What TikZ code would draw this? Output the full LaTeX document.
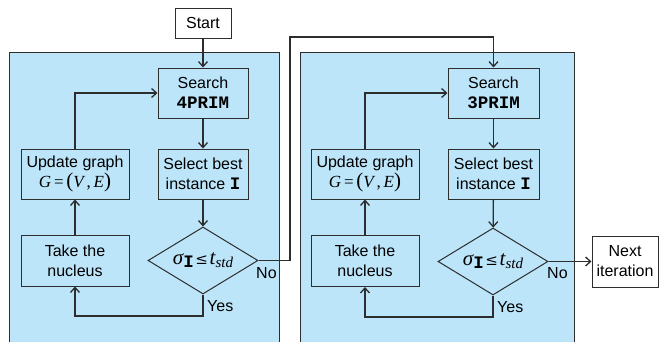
\documentclass[tikz,border=0pt]{standalone}
\usepackage{fontspec}
\setmainfont{Liberation Sans}
\setmonofont{Liberation Mono}
\newfontfamily\serifmath{Liberation Serif}
\newfontfamily\symfont{DejaVu Serif}
\usetikzlibrary{shapes.geometric,arrows.meta}

\definecolor{panelblue}{RGB}{188,229,250}
\definecolor{edge}{RGB}{45,45,45}

\newcommand{\mono}[1]{{\fontsize{17.5}{20}\selectfont\ttfamily\bfseries #1}}
\newcommand{\mvar}[1]{{\serifmath\itshape #1}}
\newcommand{\cond}{{\fontsize{21}{22}\selectfont\mvar{σ}}\raisebox{-3pt}{\mono{I}}\,{\symfont\fontsize{15}{16}\selectfont ≤}\,{\fontsize{21}{22}\selectfont\mvar{t}}\raisebox{-3pt}{\fontsize{15}{16}\selectfont\mvar{std}}}
\newcommand{\graphG}{{\fontsize{17}{20}\selectfont\mvar{G}\,{\serifmath =}\,{\serifmath\fontsize{21}{20}\selectfont(}\mvar{V}\,{\serifmath ,}\,\mvar{E}{\serifmath\fontsize{21}{20}\selectfont)}}}

\tikzset{
  panel/.style={draw=edge, line width=1pt, fill=panelblue},
  box/.style={draw=edge, line width=1pt, rectangle, inner sep=0pt, align=center,
    font=\fontsize{16}{20}\selectfont},
  whitebox/.style={box, fill=white},
  test/.style={draw=edge, line width=1pt, diamond, aspect=1.64, inner sep=0pt,
    minimum width=110pt, minimum height=67pt},
  flow/.style={draw=edge, line width=1.3pt, -{Straight Barb[length=5pt,width=9pt,line width=1.3pt]}},
  tag/.style={font=\fontsize{16}{18}\selectfont, inner sep=0pt}
}

\begin{document}
\begin{tikzpicture}[x=1pt, y=-1pt]
  \clip (0,0) rectangle (659,341);
  \fill[white] (0,0) rectangle (659,341);

  % the two search stages
  \draw[panel] (9,52) rectangle (279,350);
  \draw[panel] (300,52) rectangle (574,350);

  \node[whitebox, minimum width=56pt, minimum height=30pt] (start) at (203,23) {Start};

  % stage one
  \node[box, minimum width=90pt, minimum height=50pt] (search1) at (203,93) {Search\\\mono{4PRIM}};
  \node[box, minimum width=90pt, minimum height=50pt] (select1) at (203,174) {Select best\\instance \mono{I}};
  \node[box, minimum width=108pt, minimum height=50pt] (update1) at (75,174) {Update graph\\\graphG};
  \node[box, minimum width=108pt, minimum height=51pt] (take1) at (75,260.5) {Take the\\nucleus};
  \node[test] (dec1) at (203,260.5) {\cond};

  % stage two
  \node[box, minimum width=91pt, minimum height=50pt] (search2) at (493.5,93) {Search\\\mono{3PRIM}};
  \node[box, minimum width=91pt, minimum height=50pt] (select2) at (493.5,174) {Select best\\instance \mono{I}};
  \node[box, minimum width=108pt, minimum height=50pt] (update2) at (365,174) {Update graph\\\graphG};
  \node[box, minimum width=108pt, minimum height=51pt] (take2) at (365,261) {Take the\\nucleus};
  \node[test] (dec2) at (493,261.5) {\cond};

  \node[whitebox, minimum width=66pt, minimum height=51pt] (next) at (625,261.5) {Next\\iteration};

  % route points
  \coordinate (yes1) at (203,316);
  \coordinate (yes2) at (493,317);
  \coordinate (jumpA) at (290,260.5);
  \coordinate (jumpB) at (290,37);

  % connectors, stage one
  \draw[flow] (start) -- (search1);
  \draw[flow] (search1) -- (select1);
  \draw[flow] (select1) -- (dec1);
  \draw[flow] (update1.north) |- (search1.west);
  \draw[flow] (take1) -- (update1);
  \draw[flow] (dec1.south) -- (yes1) -| (take1.south);

  % from stage one to stage two
  \draw[flow] (dec1.east) -- (jumpA) -- (jumpB) -| (search2.north);

  % connectors, stage two
  \draw[flow] (search2) -- (select2);
  \draw[flow] (select2) -- (dec2);
  \draw[flow] (update2.north) |- (search2.west);
  \draw[flow] (take2) -- (update2);
  \draw[flow] (dec2.south) -- (yes2) -| (take2.south);
  \draw[flow] (dec2.east) -- (next.west);

  % branch labels
  \node[tag, anchor=west] (no1) at (256,273) {No};
  \node[tag, anchor=west] (yesl1) at (207,306) {Yes};
  \node[tag, anchor=west] (no2) at (547,273) {No};
  \node[tag, anchor=west] (yesl2) at (497,307) {Yes};
\end{tikzpicture}
\end{document}
